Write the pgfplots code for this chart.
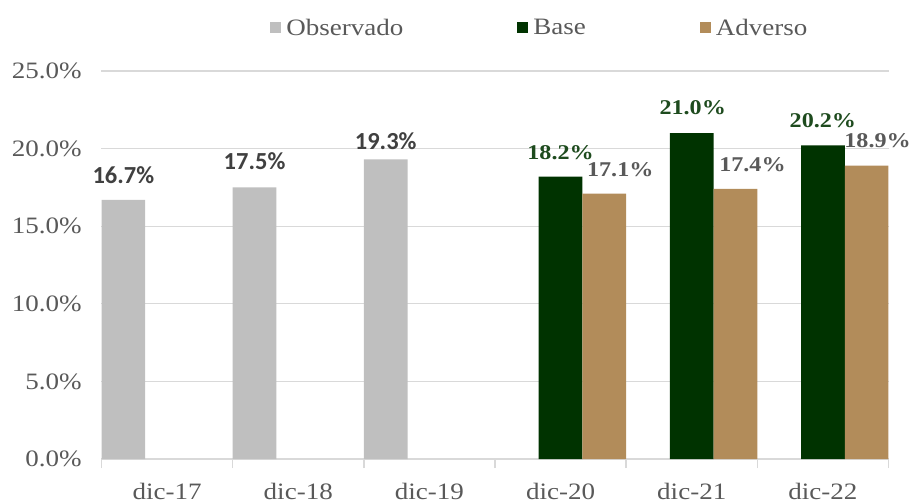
\documentclass[border=0pt]{standalone}
\usepackage{fontspec}
\setmainfont{Liberation Serif}[FakeStretch=1.15]
\newfontfamily\calib{Carlito}
\usepackage{pgfplots}
\pgfplotsset{compat=1.18}
\usepackage{pgfplotstable}

\definecolor{obsgray}{HTML}{BFBFBF}
\definecolor{basegreen}{HTML}{003300}
\definecolor{advtan}{HTML}{B28C5A}
\definecolor{basetxt}{HTML}{1E4B1E}
\definecolor{txtgray}{HTML}{595959}
\definecolor{obstxt}{HTML}{404040}
\definecolor{gridgray}{HTML}{D9D9D9}

% x = category index (0 = dic-17), dx/dy = label offsets in pt
\pgfplotstableread{
x y dx dy
0 16.7 0 25
1 17.5 0 26
2 19.3 0 18
}\obs
\pgfplotstableread{
x y dx dy
3 18.2 0 24
4 21.0 1 25
5 20.2 0 25
}\base
\pgfplotstableread{
x y dx dy
3 17.1 16 24
4 17.4 17 24
5 18.9 11 25
}\adv

\begin{document}
\begin{tikzpicture}
\begin{axis}[
    at={(0,0)}, anchor=south west,
    scale only axis,
    width=787pt, height=388pt,
    ybar,
    bar width=43.7pt,
    xmin=-0.5, xmax=5.5,
    ymin=0, ymax=25,
    xtick={0,...,5},
    xticklabels={dic-17,dic-18,dic-19,dic-20,dic-21,dic-22},
    major x tick style={draw=none},
    minor xtick={-0.5,0.5,...,5.5},
    minor x tick style={draw=gridgray, line width=1.5pt},
    minor tick length=9pt,
    tick align=outside,
    ytick={0,5,...,25},
    ytick style={draw=none},
    ymajorgrids,
    grid style={draw=gridgray, line width=1.3pt},
    axis x line*=bottom,
    axis y line*=left,
    y axis line style={draw=none},
    x axis line style={draw=gridgray, line width=1.5pt},
    axis line style={-},
    /pgf/number format/assume math mode=true,
    yticklabel={\pgfmathprintnumber[fixed,fixed zerofill,precision=1]{\tick}\%},
    ticklabel style={font=\fontsize{23.5}{26}\selectfont, text=txtgray},
    yticklabel style={xshift=-12pt},
    xticklabel style={yshift=-16pt},
    nodes near coords={\pgfmathprintnumber[fixed,fixed zerofill,precision=1]{\pgfplotspointmeta}\%},
    visualization depends on={\thisrow{dx} \as \dx},
    visualization depends on={\thisrow{dy} \as \dy},
    every node near coord/.append style={anchor=center, xshift=\dx pt, yshift=\dy pt, inner sep=0pt},
    legend columns=3,
    legend style={draw=none, fill=none, at={(0.557,1)}, anchor=center, yshift=43pt,
        font=\fontsize{23.5}{26}\selectfont, text=txtgray,
        /tikz/every even column/.append style={column sep=112pt}},
    legend image code/.code={\fill[#1, draw=none] (0pt,-5.5pt) rectangle (11pt,5.5pt);
        \path (14pt,0pt);},
]
\addplot[fill=obsgray, draw=none, bar shift=-43.7pt,
    every node near coord/.append style={font=\calib\bfseries\fontsize{24.5}{26}\selectfont, text=obstxt}]
    table[x=x, y=y] {\obs};
\addplot[fill=basegreen, draw=none, bar shift=0pt,
    every node near coord/.append style={font=\bfseries\fontsize{21}{24}\selectfont, text=basetxt}]
    table[x=x, y=y] {\base};
\addplot[fill=advtan, draw=none, bar shift=43.7pt,
    every node near coord/.append style={font=\bfseries\fontsize{21}{24}\selectfont, text=txtgray}]
    table[x=x, y=y] {\adv};
\legend{Observado, Base, Adverso}
\end{axis}
\useasboundingbox (-101.5pt,-40pt) rectangle (810.5pt,459pt);
\end{tikzpicture}
\end{document}
